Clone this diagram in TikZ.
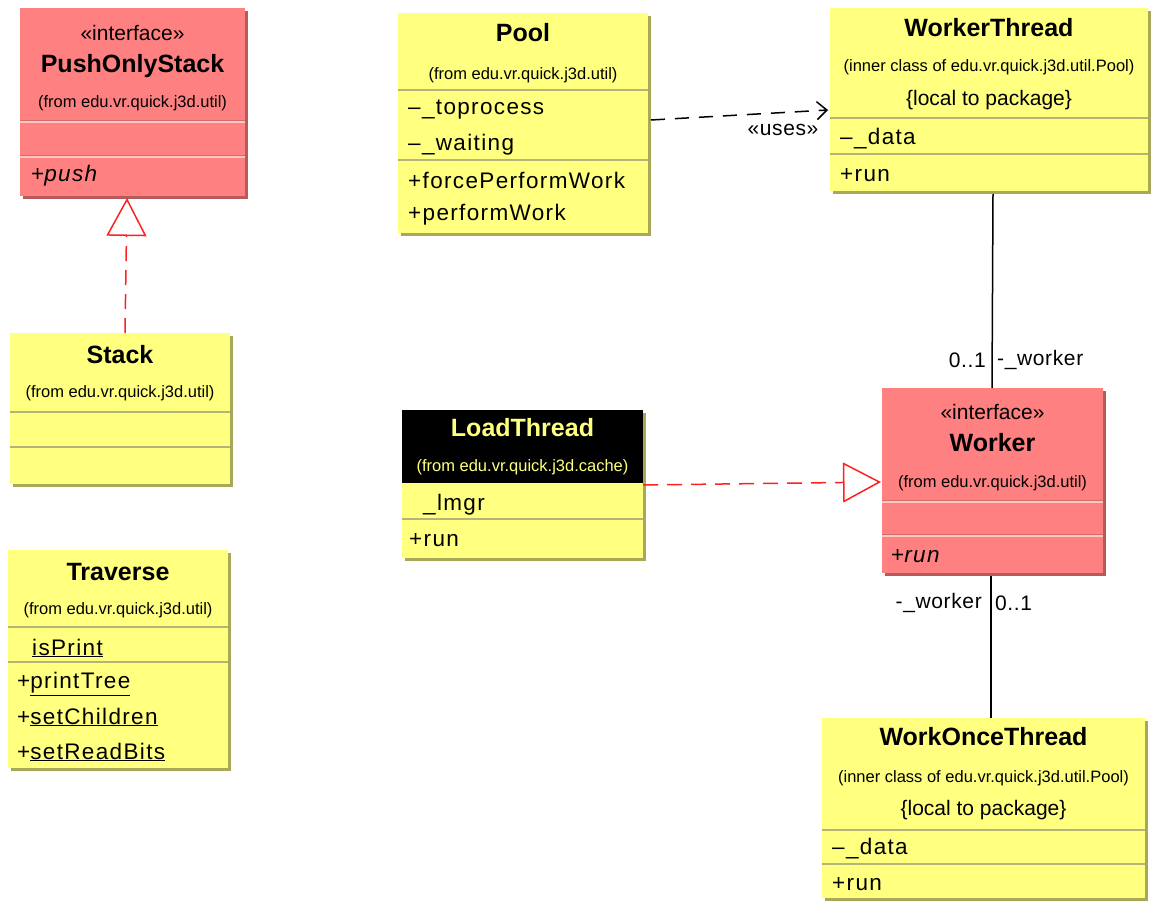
\documentclass[tikz,border=0pt]{standalone}
\usepackage{fontspec}
\setmainfont{Liberation Sans}
\newfontfamily\memberfont[LetterSpace=6]{Liberation Sans}
\newfontfamily\labelfont[LetterSpace=3]{Liberation Sans}
\usetikzlibrary{arrows.meta,shadows}

\definecolor{classfill}{HTML}{FFFF80}
\definecolor{classshade}{HTML}{A8A858}
\definecolor{classrule}{HTML}{B4B47A}
\definecolor{ifacefill}{HTML}{FF8080}
\definecolor{ifaceshade}{HTML}{B85A5A}
\definecolor{ifacelight}{HTML}{FFC6C6}
\definecolor{ifacedark}{HTML}{D86A6A}
\definecolor{realred}{HTML}{FF2020}

\tikzset{
  classbox/.style={rectangle, anchor=north west, inner sep=0pt, outer sep=0pt,
    fill=classfill,
    drop shadow={shadow xshift=3pt, shadow yshift=-3pt, fill=classshade, opacity=1}},
  ifacebox/.style={rectangle, anchor=north west, inner sep=0pt, outer sep=0pt,
    fill=ifacefill,
    drop shadow={shadow xshift=3pt, shadow yshift=-3pt, fill=ifaceshade, opacity=1}},
  classsep/.style={draw=classrule, line width=1.6pt},
  ifacesep/.style={draw=ifacelight, line width=2.4pt,
    postaction={draw=ifacedark, line width=0.8pt, transform canvas={yshift=1.2pt}}},
  ttl/.style={font=\fontsize{25}{30}\selectfont\bfseries, inner sep=0pt},
  pkg/.style={font=\fontsize{16.5}{20}\selectfont, inner sep=0pt},
  ster/.style={font=\fontsize{21}{25}\selectfont, inner sep=0pt},
  mem/.style={font=\memberfont\fontsize{22.5}{26}\selectfont, inner sep=0pt,
    anchor=west, yshift=-2pt},
  lbl/.style={font=\labelfont\fontsize{21}{25}\selectfont, inner sep=0pt},
  realize/.style={draw=realred, line width=1.5pt, dash pattern=on 15pt off 9pt,
    -{Triangle[open, length=38pt, width=40pt]}},
  uses/.style={draw=black, line width=1.5pt, dash pattern=on 14pt off 10pt,
    -{Straight Barb[length=10pt, width=18pt]}},
  assoc/.style={draw=black, line width=1.5pt},
}

\begin{document}
\begin{tikzpicture}[x=1pt, y=-1pt]
\useasboundingbox (0,0) rectangle (1151,901);

% ---------- PushOnlyStack (interface) ----------
\node[ifacebox, minimum width=225pt, minimum height=188pt] (pos) at (20,8) {};
\node[ster] (posster) at (132.5,33) {«interface»};
\node[ttl] (postitle) at (132.5,66) {PushOnlyStack};
\node[pkg] (pospkg) at (132.5,103) {(from edu.vr.quick.j3d.util)};
\draw[ifacesep] (20,122) -- (245,122);
\draw[ifacesep] (20,157) -- (245,157);
\node[mem] (pospush) at (31,174) {+\textit{push}};

% ---------- Stack ----------
\node[classbox, minimum width=220pt, minimum height=151pt] (stack) at (10,333) {};
\node[ttl] (stacktitle) at (120,355) {Stack};
\node[pkg] (stackpkg) at (120,393) {(from edu.vr.quick.j3d.util)};
\draw[classsep] (10,412) -- (230,412);
\draw[classsep] (10,447) -- (230,447);

% ---------- Traverse ----------
\node[classbox, minimum width=220pt, minimum height=218pt] (trav) at (8,550) {};
\node[ttl] (travtitle) at (118,572) {Traverse};
\node[pkg] (travpkg) at (118,610) {(from edu.vr.quick.j3d.util)};
\draw[classsep] (8,627) -- (228,627);
\node[mem] (travis) at (32,646) {\underline{isPrint}};
\draw[classsep] (8,662) -- (228,662);
\node[mem] (travpt) at (17,682) {+\underline{printTree}};
\node[mem] (travsc) at (17,715) {+\underline{setChildren}};
\node[mem] (travsr) at (17,750) {+\underline{setReadBits}};

% ---------- Pool ----------
\node[classbox, minimum width=250pt, minimum height=220pt] (pool) at (398,13) {};
\node[ttl] (pooltitle) at (523,33) {Pool};
\node[pkg] (poolpkg) at (523,75) {(from edu.vr.quick.j3d.util)};
\draw[classsep] (398,90) -- (648,90);
\node[mem] (pooltp) at (408,108) {–\_toprocess};
\node[mem] (poolwt) at (408,143) {–\_waiting};
\draw[classsep] (398,160) -- (648,160);
\node[mem] (poolfpw) at (408,178) {+forcePerformWork};
\node[mem] (poolpw) at (408,213) {+performWork};

% ---------- WorkerThread ----------
\node[classbox, minimum width=318pt, minimum height=183pt] (wt) at (830,8) {};
\node[ttl] (wttitle) at (989,28) {WorkerThread};
\node[pkg] (wtpkg) at (989,67) {(inner class of edu.vr.quick.j3d.util.Pool)};
\node[ster] (wtloc) at (989,100) {\{local to package\}};
\draw[classsep] (830,118) -- (1148,118);
\node[mem] (wtdata) at (840,137) {–\_data};
\draw[classsep] (830,154) -- (1148,154);
\node[mem] (wtrun) at (840,173) {+run};

% ---------- LoadThread ----------
\node[classbox, minimum width=241pt, minimum height=148pt] (load) at (402,410) {};
\fill[black] (402,410) rectangle (643,483);
\node[ttl, text=classfill] (loadtitle) at (522.5,428) {LoadThread};
\node[pkg, text=classfill] (loadpkg) at (522.5,467) {(from edu.vr.quick.j3d.cache)};
\node[mem] (loadlm) at (423,503) {\_lmgr};
\draw[classsep] (402,519) -- (643,519);
\node[mem] (loadrun) at (409,538) {+run};

% ---------- Worker (interface) ----------
\node[ifacebox, minimum width=221pt, minimum height=185pt] (worker) at (882,388) {};
\node[ster] (wkster) at (992.5,412) {«interface»};
\node[ttl] (wktitle) at (992.5,443) {Worker};
\node[pkg] (wkpkg) at (992.5,483) {(from edu.vr.quick.j3d.util)};
\draw[ifacesep] (882,502) -- (1103,502);
\draw[ifacesep] (882,536) -- (1103,536);
\node[mem] (wkrun) at (891,554) {+\textit{run}};

% ---------- WorkOnceThread ----------
\node[classbox, minimum width=323pt, minimum height=180pt] (wot) at (822,718) {};
\node[ttl] (wottitle) at (983.5,737) {WorkOnceThread};
\node[pkg] (wotpkg) at (983.5,778) {(inner class of edu.vr.quick.j3d.util.Pool)};
\node[ster] (wotloc) at (983.5,810) {\{local to package\}};
\draw[classsep] (822,830) -- (1145,830);
\node[mem] (wotdata) at (832,847) {–\_data};
\draw[classsep] (822,864) -- (1145,864);
\node[mem] (wotrun) at (832,882) {+run};

% ---------- connectors ----------
\draw[realize] ([xshift=5pt]stack.north) -- ([xshift=-5.5pt, yshift=-2pt]pos.south);
\draw[realize] ([yshift=-75pt]load.north east) -- ([yshift=-94pt, xshift=-1pt]worker.north west);
\draw[uses] ([yshift=-107pt, xshift=3pt]pool.north east) -- ([yshift=-102pt, xshift=-2pt]wt.north west);
\node[lbl] (useslbl) at (783,130) {«uses»};

\draw[assoc] ([xshift=4pt, yshift=-3pt]wt.south) -- ([xshift=-0.5pt]worker.north);
\node[lbl, anchor=east] (m1) at (986,360) {0..1};
\node[lbl, anchor=west] (r1) at (997,360) {-\_worker};

\draw[assoc] ([xshift=-1.5pt, yshift=-3pt]worker.south) -- ([xshift=7.5pt]wot.north);
\node[lbl, anchor=east] (r2) at (982,603) {-\_worker};
\node[lbl, anchor=west] (m2) at (995,603) {0..1};
\end{tikzpicture}
\end{document}
